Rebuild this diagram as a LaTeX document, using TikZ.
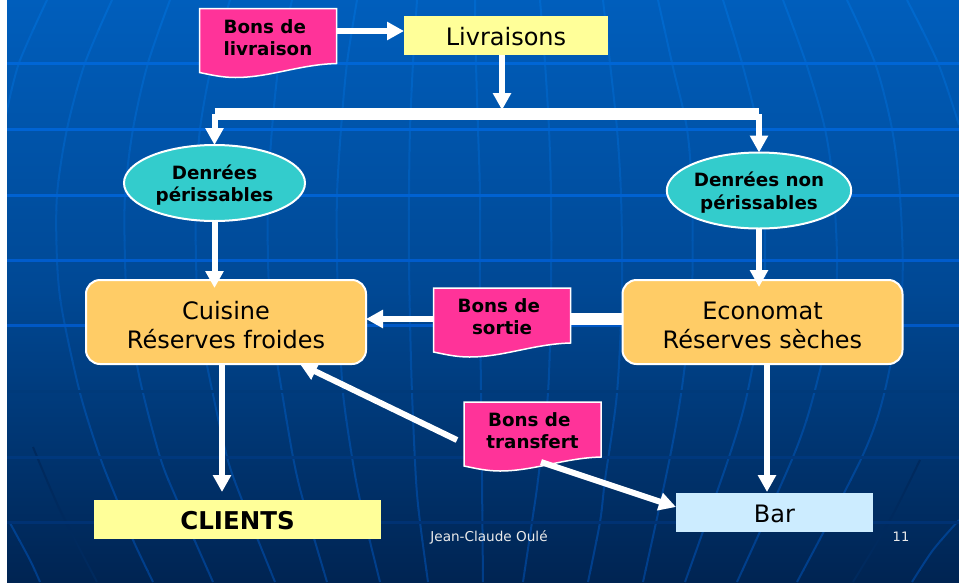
\documentclass[tikz,border=0pt]{standalone}
\usepackage{fontspec}
\setmainfont{DejaVu Sans}
\usetikzlibrary{arrows.meta,shapes.geometric,calc}
\definecolor{bgtop}{RGB}{0,94,188}
\definecolor{bgmid}{RGB}{0,72,148}
\definecolor{bgbot}{RGB}{0,36,82}
\definecolor{merTop}{RGB}{0,104,204}
\definecolor{merBot}{RGB}{0,60,135}
\definecolor{docpink}{RGB}{255,51,153}
\definecolor{paleyellow}{RGB}{255,255,153}
\definecolor{paleblue}{RGB}{204,236,255}
\definecolor{orangebox}{RGB}{255,204,102}
\definecolor{tealbox}{RGB}{51,204,204}
\newcommand{\dn}[2]{\raisebox{-#1}[\height][\depth]{#2}}
\tikzset{
  flatbox/.style={rectangle,inner sep=0pt,outer sep=0pt,text=black,font=\fontsize{24}{29}\selectfont,align=center},
  storebox/.style={rectangle,rounded corners=14pt,draw=white,line width=2pt,fill=orangebox,minimum width=280pt,minimum height=84pt,inner sep=0pt,outer sep=0pt,text=black,align=center,font=\fontsize{24}{29}\selectfont},
  foodbox/.style={ellipse,draw=white,line width=2pt,fill=tealbox,minimum width=181pt,minimum height=76pt,inner sep=0pt,outer sep=0pt,text=black,align=center,font=\fontsize{18.3}{22.5}\selectfont\bfseries},
  docedge/.style={draw=white,line width=1.5pt,fill=docpink},
  doctext/.style={rectangle,minimum width=137pt,minimum height=55pt,inner sep=0pt,outer sep=0pt,text=black,align=center,font=\fontsize{18.3}{22}\selectfont\bfseries},
  flow/.style={draw=white,line width=6pt,-{Triangle[length=17pt,width=17.5pt]},white},
  thickflow/.style={draw=white,line width=12pt},
  foot/.style={text=white!92!black,inner sep=0pt,font=\fontsize{13.6}{16}\selectfont},
}
\newcommand{\docnode}[5]{%
  \draw[docedge,shift={(#2,#3)}] (0,0) -- (137,0) -- (137,55)
    .. controls (100,56) and (70,69) .. (36,69)
    .. controls (22,69) and (10,66) .. (0,64) -- cycle;
  \node[doctext] (#1) at ({#2+68.5},{#3+27.5}) {\dn{1.5pt}{#4\hspace*{0.35em}}\\\dn{1.5pt}{#5}};
}
\newcommand{\meridians}{%
  \foreach \pts in {
    {(47,0)(19,63)(6,115)},
    {(112,0)(85,63)(67,129)(57,195)(57,260)(62,310)(80,393)(100,457)(117,500)(133,540)(153,582)},
    {(170,0)(148,63)(133,129)(125,195)(125,260)(128,310)(140,380)(160,457)(177,500)(213,582)},
    {(230,0)(212,63)(200,129)(196,195)(196,260)(199,320)(210,380)(227,457)(242,500)(275,582)},
    {(292,0)(279,63)(272,129)(268,195)(268,260)(271,320)(280,380)(293,457)(303,500)(327,582)},
    {(357,0)(347,63)(341,129)(337,195)(337,260)(339,320)(343,393)(352,457)(360,500)(380,582)},
    {(417,0)(413,63)(410,129)(409,195)(409,260)(410,320)(412,393)(416,480)(420,522)(428,582)},
    {(475,0)(476,63)(478,129)(480,195)(480,290)(481,393)(482,480)(483,582)},
    {(540,0)(545,63)(549,129)(551,195)(551,290)(548,393)(538,480)(532,522)(523,582)},
    {(603,0)(610,63)(617,129)(621,195)(622,290)(617,393)(605,480)(600,522)(588,582)},
    {(658,0)(672,63)(687,129)(692,195)(692,290)(683,380)(670,457)(643,582)},
    {(723,0)(742,63)(758,129)(764,195)(764,290)(748,390)(729,457)(685,582)},
    {(783,0)(806,63)(825,129)(834,195)(836,290)(815,390)(793,457)(737,582)},
    {(847,0)(875,63)(892,129)(900,195)(902,290)(885,390)(862,457)(797,582)},
    {(907,0)(938,63)(959,125)},
    {(10,523)(30,560)(40,582)},
    {(959,520)(933,550)(912,582)}}
  {\draw[line width=2pt] plot[smooth] coordinates {\pts};}
}
\begin{document}
\begin{tikzpicture}[x=1pt,y=-1pt]
\useasboundingbox (0,0) rectangle (959,582);
\fill[white] (0,0) rectangle (959,582);
\fill[black!30] (6.5,0) rectangle (7.5,582);
% background
\shade[top color=bgtop,bottom color=bgmid,shading angle=0] (7,0) rectangle (959,291.5);
\shade[top color=bgmid,bottom color=bgbot,shading angle=0] (7,291) rectangle (959,582);
% meridians, tinted band by band
\begin{scope}
\clip (7,0) rectangle (959,582);
\foreach \yy in {0,30,...,570}{
  \pgfmathtruncatemacro{\pct}{100-\yy/5.82}
  \colorlet{mercol}{merTop!\pct!merBot}
  \begin{scope}
    \clip (0,\yy) rectangle (959,\yy+30.5);
    \begin{scope}[color=mercol]\meridians\end{scope}
  \end{scope}
}
\definecolor{faintline}{RGB}{0,42,94}
\draw[line width=2pt,color=faintline] plot[smooth] coordinates {(33,447)(60,510)(97,582)};
\draw[line width=2pt,color=faintline] plot[smooth] coordinates {(920,460)(890,520)(853,582)};
% parallels
\foreach \yy/\r/\g/\b in {63/0/102/214,129/0/100/212,195/0/98/210,260/0/92/204,325/0/88/198,391/0/58/122,457/0/56/125,522/0/50/115}{
  \definecolor{parcol}{RGB}{\r,\g,\b}
  \draw[line width=3pt,color=parcol] (7,\yy) -- (959,\yy);
}
\end{scope}
% nodes
\docnode{blivr}{199.5}{8.5}{Bons de}{livraison}
\node[flatbox,fill=paleyellow,minimum width=204pt,minimum height=39pt] (liv) at (506,35.5) {\dn{1pt}{Livraisons}};
\node[foodbox] (dper) at (214.5,183) {\dn{2pt}{Denrées}\\\dn{2pt}{périssables}};
\node[foodbox] (dnon) at (759,190.5) {\dn{2pt}{Denrées non}\\\dn{2pt}{périssables}};
\node[storebox] (cuisine) at (226,322) {\dn{3pt}{Cuisine}\\\dn{3pt}{Réserves froides}};
\node[storebox] (econ) at (762.5,322) {\dn{3pt}{Economat}\\\dn{3pt}{Réserves sèches}};
\docnode{bsort}{433.5}{288}{Bons de}{sortie}
\docnode{btrans}{464}{402}{Bons de}{transfert}
\node[flatbox,fill=paleyellow,minimum width=287pt,minimum height=39pt,font=\fontsize{24.5}{29}\selectfont\bfseries] (clients) at (237.5,519.5) {\dn{1pt}{CLIENTS}};
\node[flatbox,fill=paleblue,minimum width=197pt,minimum height=39pt] (bar) at (774.5,512.5) {\dn{1pt}{Bar}};
\coordinate (busL) at (214.5,114);
\coordinate (busR) at (759,114);
\coordinate (busM) at (502,110);
% connectors
\draw[flow] ([yshift=5pt]blivr.east) -- ([yshift=4.5pt]liv.west);
\draw[flow] ([xshift=-4pt]liv.south) -- (busM);
\draw[thickflow] (busL) -- (busR);
\draw[flow] (busL) -- (dper.north);
\draw[flow] (busR) -- (dnon.north);
\draw[flow] (dper.south) -- ([xshift=-11.5pt,yshift=-8pt]cuisine.north);
\draw[flow] (dnon.south) -- ([xshift=-3.5pt,yshift=-7pt]econ.north);
\draw[thickflow] ([yshift=-3pt]bsort.east) -- ([yshift=3.5pt]econ.west);
\draw[flow] ([yshift=-3.5pt]bsort.west) -- ([yshift=3pt]cuisine.east);
\draw[flow] ([xshift=-4pt]cuisine.south) -- ([xshift=-15.5pt,yshift=8pt]clients.north);
\draw[flow] ([xshift=4.5pt]econ.south) -- ([xshift=-7.5pt,yshift=1pt]bar.north);
\draw[flow] ([xshift=-7pt,yshift=-10.5pt]btrans.west) -- ([xshift=74pt]cuisine.south);
\draw[flow] ([xshift=8.5pt,yshift=-5pt]btrans.south) -- ([yshift=5.5pt]bar.west);
% footer
\node[foot] (author) at (489,537) {Jean-Claude Oulé};
\node[foot,font=\fontsize{13}{16}\selectfont] (pageno) at (901,537) {11};
\end{tikzpicture}
\end{document}
